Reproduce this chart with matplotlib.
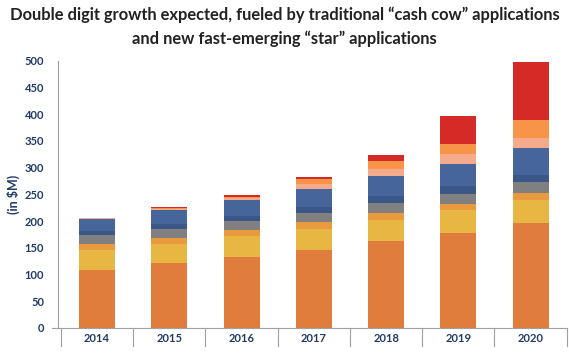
import numpy as np
import matplotlib
matplotlib.use("Agg")
import matplotlib.pyplot as plt

years = ["2014", "2015", "2016", "2017", "2018", "2019", "2020"]

# segments, bottom to top (in $M)
base_orange = [109, 121, 133, 146, 162, 178, 197]
yellow      = [37, 36, 39, 40, 40, 42, 42]
lt_orange   = [12, 12, 11, 12, 14, 12, 14]
gray        = [15, 17, 17, 17, 17, 19, 20]
navy        = [8, 8, 9, 12, 14, 15, 14]
blue        = [22, 26, 30, 33, 37, 40, 50]
salmon      = [3, 2, 4, 9, 14, 19, 19]
orange2     = [0, 2, 3, 10, 14, 20, 34]
red         = [0, 2, 3, 4, 12, 52, 107]

series = [
    (base_orange, "#E07C3C"),
    (yellow,      "#E8B743"),
    (lt_orange,   "#E99A3F"),
    (gray,        "#808080"),
    (navy,        "#3A5788"),
    (blue,        "#45659B"),
    (salmon,      "#F5AA8C"),
    (orange2,     "#F79448"),
    (red,         "#D52B27"),
]

NAVY_TXT = "#1F3A68"
plt.rcParams["font.family"] = ["Lato", "DejaVu Sans"]

fig = plt.figure(figsize=(5.69, 3.56), dpi=100)
ax = fig.add_axes([0.102, 0.079, 0.894, 0.75])

x = np.arange(len(years))
bottom = np.zeros(len(years))
for vals, col in series:
    vals = np.array(vals, dtype=float)
    ax.bar(x, vals, width=0.5, bottom=bottom, color=col, edgecolor="none")
    bottom += vals

ax.set_xlim(-0.54, 6.5)
ax.set_ylim(0, 500)
ax.set_yticks(range(0, 501, 50))
ax.tick_params(axis="y", length=0, pad=10, labelsize=8, labelcolor=NAVY_TXT)
for t in ax.get_yticklabels():
    t.set_fontweight("bold")

ax.set_xticks(x)
ax.set_xticklabels(years, fontsize=8, fontweight="bold", color=NAVY_TXT)
ax.tick_params(axis="x", length=0, pad=4)
# category separators below the axis
for b in np.arange(-0.5, 6.6, 1.0):
    ax.plot([b, b], [0, -34], color="#A0A0A0", lw=0.8, clip_on=False)
ax.plot([-0.62, -0.54], [0, 0], color="#A0A0A0", lw=0.8, clip_on=False)

for s in ["top", "right"]:
    ax.spines[s].set_visible(False)
for s in ["left", "bottom"]:
    ax.spines[s].set_color("#A0A0A0")
    ax.spines[s].set_linewidth(0.8)

ax.set_ylabel("(in $M)", fontsize=9, fontweight="bold", color=NAVY_TXT)
ax.yaxis.set_label_coords(-0.075, 0.5)

fig.text(0.5, 0.982,
         "Double digit growth expected, fueled by traditional \u201ccash cow\u201d applications\n"
         "and new fast-emerging \u201cstar\u201d applications",
         ha="center", va="top", fontsize=11.9, fontweight="bold", color="#222222",
         linespacing=1.6)

fig.savefig("out.png", dpi=100)
